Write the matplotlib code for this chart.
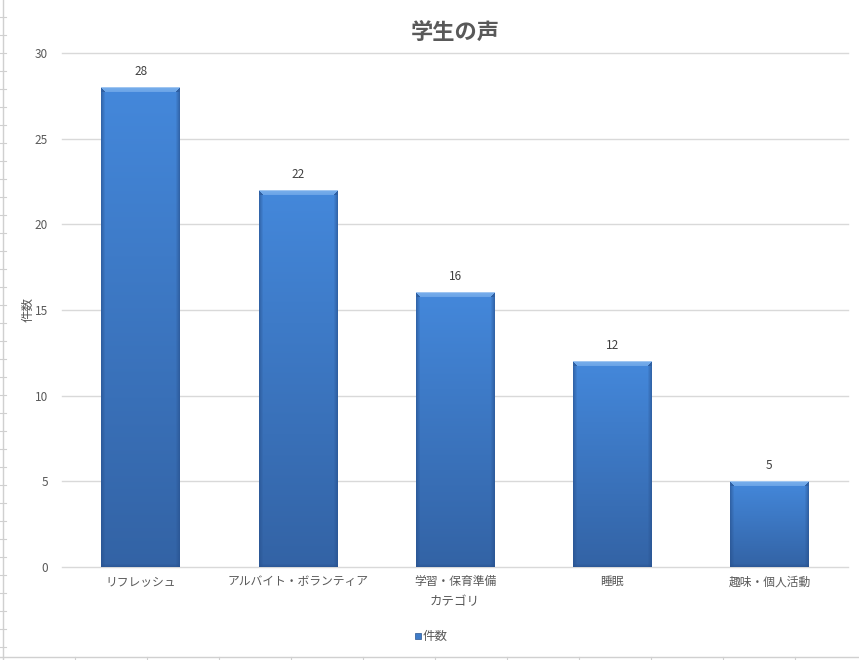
import numpy as np
import matplotlib
matplotlib.use("Agg")
import matplotlib.pyplot as plt
from matplotlib.lines import Line2D
from matplotlib.patches import Rectangle

plt.rcParams['font.family'] = ['Noto Sans CJK JP', 'DejaVu Sans']

# ---- data ----
categories = ["リフレッシュ", "アルバイト・ボランティア", "学習・保育準備", "睡眠", "趣味・個人活動"]
counts = [28, 22, 16, 12, 5]
series_name = "件数"
title = "学生の声"
x_label = "カテゴリ"
y_label = "件数"
y_ticks = [0, 5, 10, 15, 20, 25, 30]

W, H = 859, 660
fig = plt.figure(figsize=(W / 100, H / 100), dpi=100)
fig.patch.set_facecolor("white")

# spreadsheet frame decorations
grey = "#D0D0D0"
fig.add_artist(Line2D([3 / W, 3 / W], [0, 1], color=grey, lw=1, transform=fig.transFigure))
fig.add_artist(Line2D([0, 1], [1 - 657 / H, 1 - 657 / H], color=grey, lw=1, transform=fig.transFigure))
for yy in range(647, 0, -18):
    fig.add_artist(Line2D([0, 6 / W], [1 - yy / H, 1 - yy / H], color=grey, lw=0.8, transform=fig.transFigure))
for xx in range(75, W, 72):
    fig.add_artist(Line2D([xx / W, xx / W], [1 - 657 / H, 0], color=grey, lw=0.8, transform=fig.transFigure))

left, right, top, bottom = 62, 848, 53, 567
ax = fig.add_axes([left / W, 1 - bottom / H, (right - left) / W, (bottom - top) / H])
ax.set_xlim(-0.5, len(categories) - 0.5)
ax.set_ylim(0, 30)
for s in ax.spines.values():
    s.set_visible(False)
ax.set_yticks(y_ticks)
for t in y_ticks:
    ax.axhline(t, color="#D9D9D9", lw=1, zorder=0, clip_on=False)
ax.tick_params(axis="y", length=0, labelsize=8.5, labelcolor="#595959", pad=10)
ax.tick_params(axis="x", length=0, labelsize=8.5, labelcolor="#595959", pad=6)
ax.set_xticks(range(len(categories)))
ax.set_xticklabels(categories)

px_per_unit = (bottom - top) / 30.0
bw = 0.5
bar_px_w = int(round(bw * (right - left) / len(categories)))

top_c = np.array([0x44, 0x88, 0xDB]) / 255
bot_c = np.array([0x33, 0x63, 0xA5]) / 255
edge_c = np.array([0x27, 0x50, 0x8C]) / 255
bevel_c = np.array([0x78, 0xAE, 0xEC]) / 255

for i, v in enumerate(counts):
    hpx = max(int(round(v * px_per_unit)), 2)
    wpx = bar_px_w
    tv = np.linspace(0, 1, hpx)[:, None, None]
    img = top_c[None, None, :] * (1 - tv) + bot_c[None, None, :] * tv
    img = np.repeat(img, wpx, axis=1)
    # side darkening
    xs = np.arange(wpx)
    dist = np.minimum(xs, wpx - 1 - xs).astype(float)
    side = np.clip(1 - dist / 4.0, 0, 1)[None, :, None]
    img = img * (1 - side * 0.6) + edge_c[None, None, :] * side * 0.6
    # bottom darkening
    ys = np.arange(hpx)
    bd = np.clip(1 - (hpx - 1 - ys) / 3.0, 0, 1)[:, None, None]
    img = img * (1 - bd * 0.5) + edge_c[None, None, :] * bd * 0.5
    # top bevel
    bev = 5
    for r in range(min(bev, hpx)):
        c0 = r
        c1 = wpx - r
        frac = 1 - r / bev * 0.3
        img[r, c0:c1] = bevel_c * frac + top_c * (1 - frac)
        img[r, :c0] = edge_c * 0.7 + top_c * 0.3
        img[r, c1:] = edge_c * 0.7 + top_c * 0.3
    img[0, :] = bevel_c * 0.7 + np.array([1, 1, 1]) * 0.3
    ax.imshow(img, extent=[i - bw / 2, i + bw / 2, 0, v], aspect="auto",
              interpolation="bilinear", zorder=2, origin="upper")
    ax.text(i, v + 0.55, str(v), ha="center", va="bottom", fontsize=8.5, color="#404040", zorder=3)

ax.set_xlim(-0.5, len(categories) - 0.5)
ax.set_ylim(0, 30)

fig.text((left + right) / 2 / W, 1 - 32 / H, title, ha="center", va="center",
         fontsize=16, fontweight="bold", color="#595959")
fig.text((left + right) / 2 / W, 1 - 602 / H, x_label, ha="center", va="center",
         fontsize=9, color="#595959")
fig.text(28 / W, 1 - 310 / H, y_label, ha="center", va="center", rotation=90,
         fontsize=9, color="#595959")

# legend
lx, ly = 420, 636
fig.add_artist(Rectangle(((lx - 5) / W, 1 - (ly + 3) / H), 6 / W, 6 / H,
                         transform=fig.transFigure, facecolor="#3F7CC8", edgecolor="#2A5590", lw=0.5))
fig.text((lx + 3) / W, 1 - ly / H, series_name, ha="left", va="center", fontsize=9, color="#595959")

fig.savefig("out.png", dpi=100, facecolor="white")
